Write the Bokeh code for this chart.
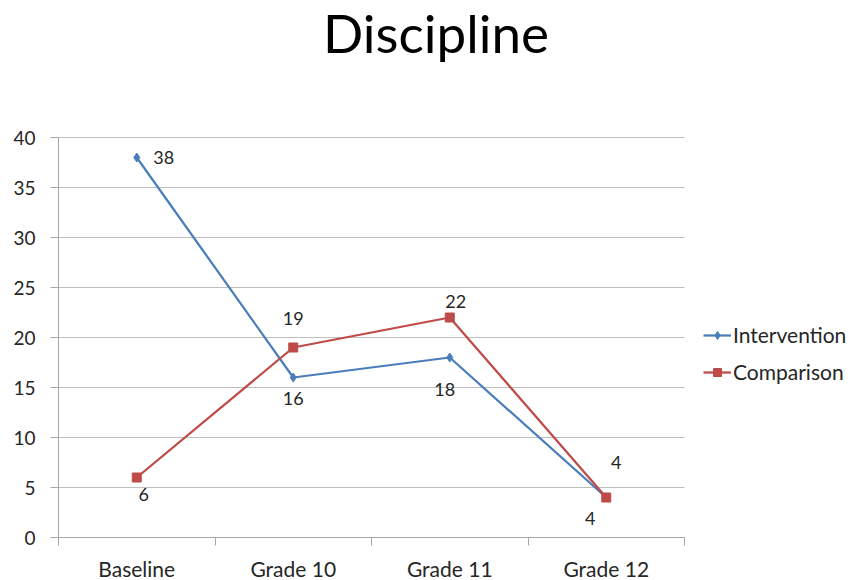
from bokeh.plotting import figure
from bokeh.models import (ColumnDataSource, FixedTicker, Range1d, Legend, LegendItem,
                          Label, Grid)
from bokeh.core.properties import value
from bokeh.embed import file_html
from bokeh.resources import INLINE

categories = ["Baseline", "Grade 10", "Grade 11", "Grade 12"]
intervention = [38, 16, 18, 4]
comparison = [6, 19, 22, 4]
y_ticks = [0, 5, 10, 15, 20, 25, 30, 35, 40]
title_text = "Discipline"

# label offsets (screen px, +y is down; style only)
int_dx = [27, 0, -5, -16]
int_dy = [0, 21, 32, 21]
cmp_dx = [7, 0, 6, 10]
cmp_dy = [17, -29, -16, -35]

BLUE = "#4A7EBB"
RED = "#BE4B48"
FONT = "Lato"
TXT = "#262626"

# layout (pixels)
LEFT, BOTTOM = 58, 43
FRAME_W, FRAME_H = 853 - LEFT, 580 - BOTTOM
PLOT_W, PLOT_H = 626, 400          # extent of the axes area inside the frame

n = len(categories)
y_max = y_ticks[-1]
xs = [i + 0.5 for i in range(n)]
x_end = n * FRAME_W / PLOT_W
y_end = y_max * FRAME_H / PLOT_H

p = figure(frame_width=FRAME_W, frame_height=FRAME_H, output_backend="svg",
           toolbar_location=None,
           x_range=Range1d(0, x_end), y_range=Range1d(0, y_end),
           min_border_left=LEFT, min_border_right=0, min_border_top=0,
           min_border_bottom=BOTTOM)
p.outline_line_color = None
p.background_fill_color = "white"
p.border_fill_color = "white"

# axes
p.xaxis.bounds = (0, n)
p.xaxis.ticker = FixedTicker(ticks=xs, minor_ticks=list(range(n + 1)))
p.xaxis.major_label_overrides = {x: c for x, c in zip(xs, categories)}
p.xaxis.major_tick_line_color = None
p.xaxis.minor_tick_line_color = "#A6A6A6"
p.xaxis.minor_tick_out = 8
p.xaxis.minor_tick_in = 0
p.xaxis.axis_line_color = "#A6A6A6"
p.xaxis.major_label_standoff = 10
p.xaxis.major_label_text_font = FONT
p.xaxis.major_label_text_font_size = "21px"
p.xaxis.major_label_text_color = TXT

p.yaxis.bounds = (0, y_max)
p.yaxis.ticker = FixedTicker(ticks=y_ticks)
p.yaxis.minor_tick_line_color = None
p.yaxis.major_tick_line_color = "#A6A6A6"
p.yaxis.major_tick_out = 8
p.yaxis.major_tick_in = 0
p.yaxis.axis_line_color = "#A6A6A6"
p.yaxis.major_label_standoff = 15
p.yaxis.major_label_text_font = FONT
p.yaxis.major_label_text_font_size = "19px"
p.yaxis.major_label_text_color = TXT

p.xgrid.grid_line_color = None
p.ygrid.ticker = FixedTicker(ticks=y_ticks[1:])
p.ygrid.grid_line_color = "#BFBFBF"
p.ygrid.grid_line_width = 1
if "cross_bounds" in Grid.properties():
    p.ygrid.cross_bounds = (0, n)
else:
    p.ygrid.grid_line_color = None
    p.segment(x0=[0] * (len(y_ticks) - 1), x1=[n] * (len(y_ticks) - 1),
              y0=y_ticks[1:], y1=y_ticks[1:], line_color="#BFBFBF", line_width=1,
              level="underlay")

src = ColumnDataSource(dict(x=xs, intv=intervention, comp=comparison,
                            intv_s=[str(v) for v in intervention],
                            comp_s=[str(v) for v in comparison],
                            idx=int_dx, idy=int_dy, cdx=cmp_dx, cdy=cmp_dy))

l1 = p.line("x", "intv", source=src, line_color=BLUE, line_width=2.25)
m1 = p.scatter("x", "intv", source=src, marker="diamond", size=9,
               fill_color=BLUE, line_color=BLUE)
l2 = p.line("x", "comp", source=src, line_color=RED, line_width=2.25)
m2 = p.scatter("x", "comp", source=src, marker="square", size=9,
               fill_color=RED, line_color=RED)

p.text("x", "intv", text="intv_s", source=src, x_offset="idx", y_offset="idy",
       text_align="center", text_baseline="middle", text_font=value(FONT),
       text_font_size="18px", text_color=TXT)
p.text("x", "comp", text="comp_s", source=src, x_offset="cdx", y_offset="cdy",
       text_align="center", text_baseline="middle", text_font=value(FONT),
       text_font_size="18px", text_color=TXT)

legend = Legend(items=[LegendItem(label="Intervention", renderers=[l1, m1]),
                       LegendItem(label="Comparison", renderers=[l2, m2])],
                location=(645, 153), orientation="vertical",
                border_line_color=None, background_fill_alpha=0,
                label_text_font=FONT, label_text_font_size="21px",
                label_text_color=TXT, glyph_width=28, label_standoff=2,
                spacing=12, padding=0, margin=0)
p.add_layout(legend, "center")

title = Label(x=(435.5 - LEFT) * n / PLOT_W, y=(537 - 32) * y_max / PLOT_H,
              text=title_text, text_align="center", text_baseline="alphabetic",
              text_font=FONT, text_font_size="53px", text_color="black")
p.add_layout(title)

open("out.html", "w").write(file_html(p, INLINE))
